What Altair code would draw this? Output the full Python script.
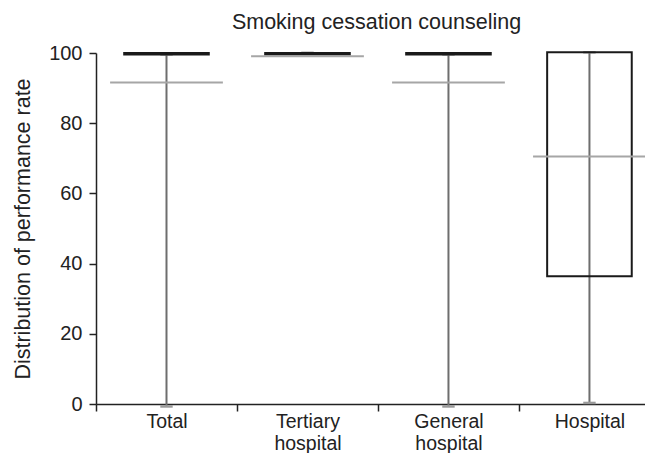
import json
import altair as alt
import pandas as pd

categories = ["Total", "Tertiary hospital", "General hospital", "Hospital"]
q1 = [99.6, 99.6, 99.6, 36.4]
q3 = [100.0, 100.0, 100.0, 100.2]
means = [91.6, 99.05, 91.6, 70.5]
whisker_low = [-0.7, 100.0, -0.7, 0.3]
whisker_high = [99.6, 100.0, 99.6, 100.2]
y_ticks = [0, 20, 40, 60, 80, 100]

pos = [i + 0.5 for i in range(len(categories))]
df = pd.DataFrame(dict(cat=categories, pos=pos, q1=q1, q3=q3, mean=means,
                       lo=whisker_low, hi=whisker_high))

FONT = "Liberation Sans"
FS = 20
label_expr = "split(" + json.dumps(categories).replace('"', "'") + "[datum.value], ' ')"

x_axis = alt.Axis(values=list(range(len(categories))), labelExpr=label_expr,
                  labelOffset=70.5, labelFlush=False, labelOverlap=False,
                  labelBaseline="top", labelPadding=1, labelLineHeight=22,
                  labelFontSize=19.5,
                  tickSize=7, grid=False, title=None)
x_scale = alt.Scale(domain=[0, 3.894], nice=False, zero=False)
y_axis = alt.Axis(values=y_ticks, grid=False, tickSize=7, labelPadding=7,
                  title="Distribution of performance rate", titlePadding=14,
                  titleFontSize=21.5)
y_scale = alt.Scale(domain=[0, 100], nice=False, zero=False)

base = alt.Chart(df).transform_calculate(
    bl="datum.pos - 0.3", br="datum.pos + 0.3",
    ml="datum.pos - 0.4", mr="datum.pos + 0.4",
    cl="datum.pos - 0.044", cr="datum.pos + 0.044",
)

whisker = base.mark_rule(color="#6e6e6e", strokeWidth=2).encode(
    x=alt.X("pos:Q", scale=x_scale, axis=x_axis),
    y=alt.Y("lo:Q", scale=y_scale, axis=y_axis),
    y2="hi:Q",
)
cap_lo = base.mark_rule(color="#9a9a9a", strokeWidth=2.5).encode(
    x=alt.X("cl:Q", scale=x_scale, axis=x_axis), x2="cr:Q",
    y=alt.Y("lo:Q", scale=y_scale, axis=y_axis),
)
cap_hi = base.mark_rule(color="#9a9a9a", strokeWidth=2.5).encode(
    x=alt.X("cl:Q", scale=x_scale, axis=x_axis), x2="cr:Q",
    y=alt.Y("hi:Q", scale=y_scale, axis=y_axis),
)
box = base.mark_rect(fillOpacity=0, stroke="#1a1a1a", strokeWidth=2).encode(
    x=alt.X("bl:Q", scale=x_scale, axis=x_axis), x2="br:Q",
    y=alt.Y("q1:Q", scale=y_scale, axis=y_axis), y2="q3:Q",
)
mean_line = base.mark_rule(color="#a6a6a6", strokeWidth=2).encode(
    x=alt.X("ml:Q", scale=x_scale, axis=x_axis), x2="mr:Q",
    y=alt.Y("mean:Q", scale=y_scale, axis=y_axis),
)

chart = alt.layer(whisker, cap_lo, cap_hi, box, mean_line).properties(
    width=549, height=351,
    autosize="none",
    padding={"left": 88, "top": 45, "right": 0, "bottom": 49},
    title=alt.TitleParams("Smoking cessation counseling", font=FONT, fontSize=21.5,
                          fontWeight="normal", color="#222222", offset=10, dx=6),
).configure_view(stroke=None).configure_axis(
    domainColor="#222222", domainWidth=1.5, tickColor="#222222", tickWidth=1.5,
    labelColor="#222222", labelFont=FONT, labelFontSize=FS,
    titleColor="#222222", titleFont=FONT, titleFontSize=FS, titleFontWeight="normal",
)

chart.save("out.html", embed_options={"renderer": "svg", "actions": False})
